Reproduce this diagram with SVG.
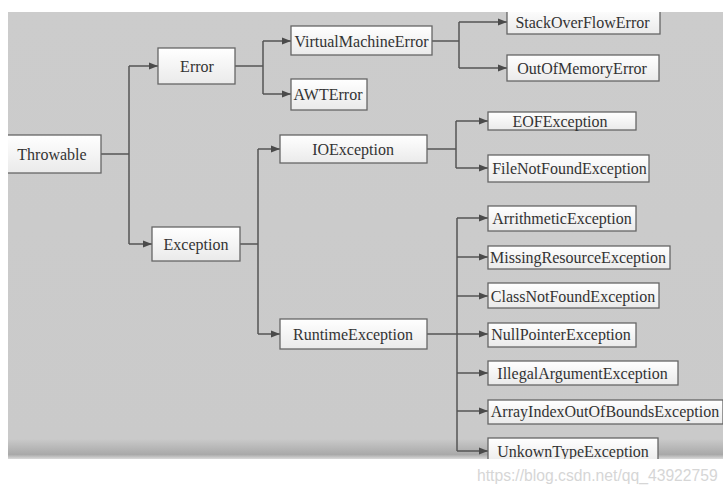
<svg xmlns="http://www.w3.org/2000/svg" width="728" height="494" viewBox="0 0 728 494">
<defs>
<linearGradient id="bg" x1="0" y1="0" x2="0" y2="1">
<stop offset="0" stop-color="#cccccc"/>
<stop offset="0.955" stop-color="#cacaca"/>
<stop offset="0.99" stop-color="#a9a9a9"/>
<stop offset="1" stop-color="#dadada"/>
</linearGradient>
<linearGradient id="box" x1="0" y1="0" x2="0" y2="1">
<stop offset="0" stop-color="#ffffff"/>
<stop offset="1" stop-color="#eaeaea"/>
</linearGradient>
<clipPath id="clip"><rect x="8" y="12" width="715" height="447"/></clipPath>
<marker id="arr" markerWidth="9" markerHeight="8" refX="9" refY="4" orient="auto" markerUnits="userSpaceOnUse">
<path d="M0,0.5 L9,4 L0,7.5 Z" fill="#4a4a4a"/>
</marker>
</defs>
<style>
.n rect{fill:url(#box);stroke:#666;stroke-width:1.3}
.n text{font-size:16px;fill:#333;text-anchor:middle;dominant-baseline:central}
#edges path{fill:none;stroke:#555;stroke-width:1.5}
#edges path.a{marker-end:url(#arr)}
</style>
<rect x="0" y="0" width="728" height="494" fill="#ffffff"/>
<rect x="8" y="12" width="715" height="447" fill="url(#bg)"/>
<g clip-path="url(#clip)" font-family="'Liberation Serif', 'Times New Roman', serif">
<g id="edges">
<path d="M101,154 H129 M129,66 V244"/>
<path class="a" d="M129,66 H158"/>
<path class="a" d="M129,244 H152"/>
<path d="M235,66 H263 M263,41 V94"/>
<path class="a" d="M263,41 H291"/>
<path class="a" d="M263,94 H291"/>
<path d="M432,41 H459 M459,22 V68"/>
<path class="a" d="M459,22 H507"/>
<path class="a" d="M459,68 H507"/>
<path d="M240,244 H258 M258,149 V334"/>
<path class="a" d="M258,149 H280"/>
<path class="a" d="M258,334 H280"/>
<path d="M427,149 H456 M456,121 V168"/>
<path class="a" d="M456,121 H488"/>
<path class="a" d="M456,168 H488"/>
<path d="M427,334 H457 M457,218 V451"/>
<path class="a" d="M457,218 H488"/>
<path class="a" d="M457,257 H488"/>
<path class="a" d="M457,296 H488"/>
<path class="a" d="M457,334 H488"/>
<path class="a" d="M457,373 H488"/>
<path class="a" d="M457,411 H488"/>
<path class="a" d="M457,451 H488"/>
</g>
<g id="throwable" class="n"><rect x="5" y="135" width="96" height="38"/><text x="52" y="154">Throwable</text></g>
<g id="error" class="n"><rect x="158" y="48" width="77" height="36"/><text x="197" y="66">Error</text></g>
<g id="exception" class="n"><rect x="152" y="227" width="88" height="34"/><text x="196" y="244">Exception</text></g>
<g id="vme" class="n"><rect x="291" y="26" width="141" height="29"/><text x="361.5" y="41">VirtualMachineError</text></g>
<g id="awt" class="n"><rect x="291" y="79" width="76" height="31"/><text x="328" y="94">AWTError</text></g>
<g id="sof" class="n"><rect x="507" y="8" width="153" height="26"/><text x="582.5" y="22">StackOverFlowError</text></g>
<g id="oom" class="n"><rect x="507" y="55" width="152" height="26"/><text x="582" y="68">OutOfMemoryError</text></g>
<g id="io" class="n"><rect x="280" y="135" width="147" height="28"/><text x="353" y="149">IOException</text></g>
<g id="runtime" class="n"><rect x="280" y="319" width="147" height="30"/><text x="353" y="334">RuntimeException</text></g>
<g id="eof" class="n"><rect x="488" y="112" width="148" height="18"/><text x="560" y="121">EOFException</text></g>
<g id="fnf" class="n"><rect x="488" y="155" width="161" height="27"/><text x="569.5" y="168">FileNotFoundException</text></g>
<g id="arith" class="n"><rect x="488" y="206" width="148" height="25"/><text x="562" y="218">ArrithmeticException</text></g>
<g id="missing" class="n"><rect x="488" y="246" width="182" height="23"/><text x="578" y="257">MissingResourceException</text></g>
<g id="cnf" class="n"><rect x="488" y="283" width="171" height="25"/><text x="573" y="296">ClassNotFoundException</text></g>
<g id="npe" class="n"><rect x="488" y="323" width="148" height="24"/><text x="561" y="334.5">NullPointerException</text></g>
<g id="iae" class="n"><rect x="488" y="361" width="190" height="24"/><text x="582.5" y="373">IllegalArgumentException</text></g>
<g id="aioobe" class="n"><rect x="488" y="400" width="235" height="24"/><text x="605" y="411.5">ArrayIndexOutOfBoundsException</text></g>
<g id="unknown" class="n"><rect x="488" y="438" width="170" height="26"/><text x="573" y="451">UnkownTypeException</text></g>
</g>
<text x="477" y="481" font-family="'Liberation Sans', Arial, sans-serif" font-size="15.7" fill="#d6d6d6">https://blog.csdn.net/qq_43922759</text>
</svg>
